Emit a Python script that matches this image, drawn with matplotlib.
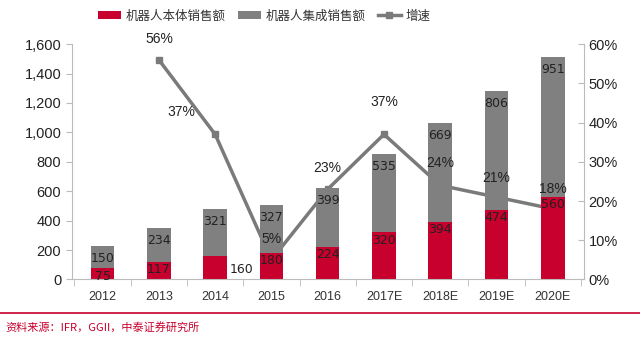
import numpy as np
import matplotlib
matplotlib.use('Agg')
import matplotlib.pyplot as plt
from matplotlib.ticker import FuncFormatter, PercentFormatter

plt.rcParams['font.family'] = ['Liberation Sans', 'Noto Sans CJK SC', 'DejaVu Sans']

# data
years = ['2012', '2013', '2014', '2015', '2016', '2017E', '2018E', '2019E', '2020E']
body_sales = [75, 117, 160, 180, 224, 320, 394, 474, 560]
integ_sales = [150, 234, 321, 327, 399, 535, 669, 806, 951]
growth_years = years[1:]
growth = [0.56, 0.37, 0.05, 0.23, 0.37, 0.24, 0.21, 0.18]

red = '#C8002D'
gray = '#808080'
line_gray = '#7A7A7A'

fig = plt.figure(figsize=(6.4, 3.45), dpi=100)
ax = fig.add_axes([0.112, 0.19, 0.80, 0.682])
ax2 = ax.twinx()
# bars in front of the growth line
ax.set_zorder(ax2.get_zorder() + 1)
ax.patch.set_visible(False)

x = np.arange(len(years))
w = 0.42
b1 = ax.bar(x, body_sales, w, color=red, label='机器人本体销售额', zorder=2)
b2 = ax.bar(x, integ_sales, w, bottom=body_sales, color=gray, label='机器人集成销售额', zorder=2)

lab_font = dict(family='DejaVu Sans', fontsize=9, color='#222222')
for i in range(len(years)):
    if years[i] == '2014':
        ax.text(x[i] + w / 2 + 0.05, body_sales[i] / 2 - 10, str(body_sales[i]), ha='left', va='center', **lab_font)
    else:
        ax.text(x[i], body_sales[i] - 8, str(body_sales[i]), ha='center', va='top', **lab_font)
    ax.text(x[i], body_sales[i] + integ_sales[i] - 40, str(integ_sales[i]), ha='center', va='top', **lab_font)

gx = x[1:]
ln, = ax2.plot(gx, growth, color=line_gray, lw=2.5, marker='s', markersize=5,
               markerfacecolor=line_gray, label='增速', zorder=3)

# label offsets in points (dx, dy)
offs = [(0, 15), (-24, 16), (0, 15), (0, 15), (0, 23), (0, 16), (0, 14), (0, 14)]
for gxi, g, (dx, dy) in zip(gx, growth, offs):
    ax.annotate(f'{g:.0%}', (gxi, g), xycoords=ax2.transData, xytext=(dx, dy),
                textcoords='offset points', ha='center', va='center', fontsize=10,
                color='#222222', zorder=5)

ax.set_ylim(0, 1600)
ax.set_yticks(np.arange(0, 1601, 200))
ax.yaxis.set_major_formatter(FuncFormatter(lambda v, p: f'{int(v):,}'))
ax2.set_ylim(0, 0.6)
ax2.set_yticks(np.arange(0, 0.61, 0.1))
ax2.yaxis.set_major_formatter(PercentFormatter(1.0, decimals=0))
ax.set_xlim(-0.55, len(years) - 0.45)
ax.set_xticks(x)
ax.set_xticklabels(years)
ax.set_xticks(np.arange(-0.5, len(years), 1), minor=True)
ax.tick_params(axis='x', which='major', length=0, pad=8, labelsize=9, colors='#333333')
ax.tick_params(axis='x', which='minor', length=5, color='#BBBBBB', direction='out')
ax.tick_params(axis='y', labelsize=10.5, colors='#222222', length=4, color='#BBBBBB')
ax2.tick_params(axis='y', labelsize=10.5, colors='#222222', length=4, color='#BBBBBB', direction='in')

for a in (ax, ax2):
    for s in a.spines.values():
        s.set_visible(False)
ax.spines['left'].set_visible(True)
ax.spines['left'].set_color('#BBBBBB')
ax.spines['bottom'].set_visible(True)
ax.spines['bottom'].set_color('#BBBBBB')
ax2.spines['right'].set_visible(True)
ax2.spines['right'].set_color('#BBBBBB')

leg = fig.legend(handles=[b1, b2, ln], loc='center', bbox_to_anchor=(0.413, 0.954), ncol=3,
                 frameon=False, handlelength=1.8, handletextpad=0.4, columnspacing=1.0,
                 prop={'family': ['Noto Sans CJK SC', 'DejaVu Sans'], 'size': 9})
for t in leg.get_texts():
    t.set_color('#333333')

fig.add_artist(plt.Line2D([0.0, 1.0], [0.093, 0.093], color=red, lw=1.2, transform=fig.transFigure))
fig.text(0.008, 0.04, '资料来源：IFR，GGII，中泰证券研究所', color=red, fontsize=8,
         family=['Noto Sans CJK SC', 'DejaVu Sans'])

fig.savefig('out.png', dpi=100)
